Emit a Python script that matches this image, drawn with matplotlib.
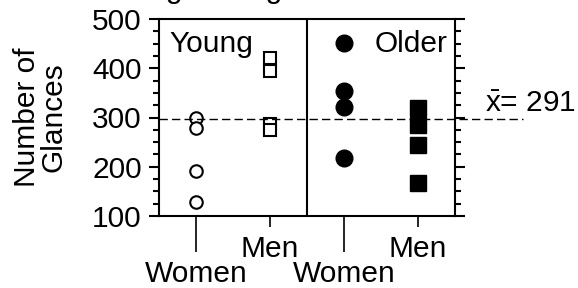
import numpy as np
import matplotlib
matplotlib.use("Agg")
import matplotlib.pyplot as plt
from matplotlib.ticker import MultipleLocator

plt.rcParams['font.family'] = ['Liberation Sans', 'DejaVu Sans']
plt.rcParams['mathtext.fontset'] = 'custom'
plt.rcParams['mathtext.rm'] = 'Liberation Sans'
plt.rcParams['mathtext.it'] = 'Liberation Sans'

# values
young_women = [298, 278, 192, 129]
young_men = [421, 395, 287, 274]
older_women = [452, 354, 321, 217]
older_men = [319, 285, 244, 166]
mean_line = 297
mean_label = 291
group_labels = ["Women", "Men", "Women", "Men"]
positions = [0.5, 1.5, 2.5, 3.5]

fs = 21.5
fig = plt.figure(figsize=(5.78, 2.88), dpi=100)
ax = fig.add_axes([159/578, 1-216/288, 296/578, 197/288])

ax.plot([positions[0]]*len(young_women), young_women, 'o', ms=9, mfc='white',
        mec='black', mew=1.5, clip_on=False)
ax.plot([positions[1]]*len(young_men), young_men, 's', ms=9, mfc='white',
        mec='black', mew=1.5, clip_on=False)
ax.plot([positions[2]]*len(older_women), older_women, 'o', ms=12, color='black')
ax.plot([positions[3]]*len(older_men), older_men, 's', ms=11.5, color='black')

ax.axvline(2, color='black', lw=1.5)
ax.axhline(mean_line, xmin=0, xmax=(523-159)/296, color='black', lw=1,
           dashes=(6, 3), clip_on=False)

ax.set_xlim(0, 4)
ax.set_ylim(100, 500)
ax.yaxis.set_major_locator(MultipleLocator(100))
ax.yaxis.set_minor_locator(MultipleLocator(25))
ax.tick_params(axis='y', which='major', direction='out', length=7.5, width=1.5,
               labelsize=fs, pad=5, right=True, labelright=False)
ax.tick_params(axis='y', which='minor', direction='out', length=4, width=1.5,
               right=True)
for sp in ax.spines.values():
    sp.set_linewidth(1.5)

# staggered x labels
ax.set_xticks(positions)
ax.set_xticklabels([])
ax.tick_params(axis='x', direction='out', width=1.2)
for i, t in enumerate(ax.xaxis.get_major_ticks()):
    t.tick1line.set_markersize(26 if i % 2 == 0 else 8)
    ytxt = -0.335 if i % 2 == 0 else -0.208
    ax.text(positions[i], ytxt, group_labels[i], transform=ax.get_xaxis_transform(),
            ha='center', va='baseline', fontsize=fs)

ax.text(0.034, 0.832, "Young", transform=ax.transAxes, fontsize=fs, va='baseline')
ax.text(0.973, 0.832, "Older", transform=ax.transAxes, fontsize=fs, va='baseline',
        ha='right')

fig.text(40.5/578, 1-117/288, "Number of\nGlances", rotation=90, ha='center',
         va='center', fontsize=fs, linespacing=0.95)
fig.text(485/578, 1-112/288, r"$\bar{\mathrm{x}}$= " + str(mean_label),
         fontsize=fs, va='baseline')
# title sits mostly above the top edge, as in the source
fig.text(300/578, 1+2/288, "Age and gender effects", fontsize=fs, ha='center',
         va='baseline')

fig.savefig("out.png", dpi=100)
